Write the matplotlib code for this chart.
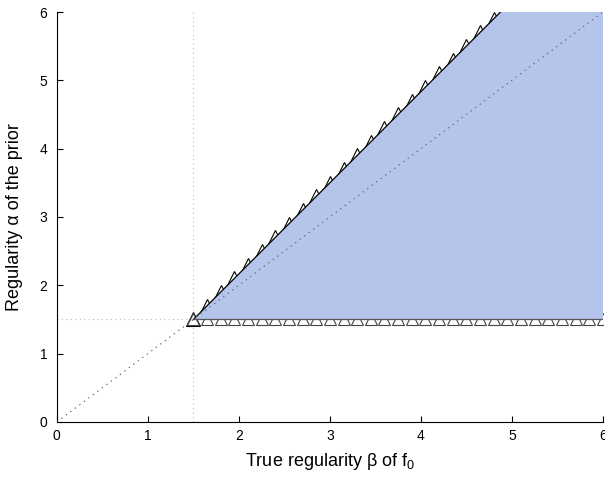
import numpy as np
import matplotlib
matplotlib.use("Agg")
import matplotlib.pyplot as plt
from matplotlib.patches import Polygon

plt.rcParams['font.family'] = ['Liberation Sans', 'DejaVu Sans']

# boundary of the region: alpha = beta_min on the bottom, alpha = 4*beta/3 - 1/2 on top
beta_min = 1.5
top_slope = 4 / 3
top_offset = -0.5
beta_marks = np.arange(1.5, 6.3, 0.15)
fill_color = '#b4c4ea'

fig = plt.figure(figsize=(6.05, 4.8), dpi=100)
ax = fig.add_axes([0.094, 0.121, 0.9025, 0.854])

# reference lines
ax.plot([beta_min, beta_min], [0, 6], ls=(0, (1, 3)), color='#bbbbbb', lw=0.8, zorder=1)
ax.plot([0, 6], [beta_min, beta_min], ls=(0, (1, 3)), color='#bbbbbb', lw=0.8, zorder=1)
ax.plot([0, 6], [0, 6], ls=(0, (1, 3.5)), color='#666666', lw=0.9, zorder=5)

# markers along both edges (half hidden under the region)
top_beta = beta_marks[top_slope * beta_marks + top_offset <= 6.05]
ax.plot(top_beta, top_slope * top_beta + top_offset, ls='none', marker='^',
        ms=10.5, mfc='white', mec='black', mew=0.8, zorder=2)
ax.plot(beta_marks, np.full_like(beta_marks, beta_min), ls='none', marker='^',
        ms=8, mfc='white', mec='#444444', mew=0.8, zorder=2)

# the region
beta_top = (6 - top_offset) / top_slope
poly = Polygon([[beta_min, beta_min], [beta_top, 6], [6.5, 6], [6.5, beta_min]],
               closed=True, facecolor=fill_color, edgecolor='none', zorder=3)
ax.add_patch(poly)
ax.plot([beta_min, beta_top], [beta_min, 6], color='black', lw=0.9, zorder=4)
ax.plot([beta_min, 6], [beta_min, beta_min], color='#555555', lw=0.9, zorder=4)

ax.set_xlim(0, 6)
ax.set_ylim(0, 6)
ax.set_xticks(range(7))
ax.set_yticks(range(7))
ax.spines['top'].set_visible(False)
ax.spines['right'].set_visible(False)
ax.tick_params(direction='in', length=4, labelsize=10, width=0.8)
ax.tick_params(axis='y', pad=7)
ax.tick_params(axis='x', pad=5)
ax.set_xlabel('True regularity β of f$_{\\mathregular{0}}$', fontsize=13, labelpad=6)
ax.set_ylabel('Regularity α of the prior', fontsize=13, labelpad=12)

fig.savefig('out.png', dpi=100)
